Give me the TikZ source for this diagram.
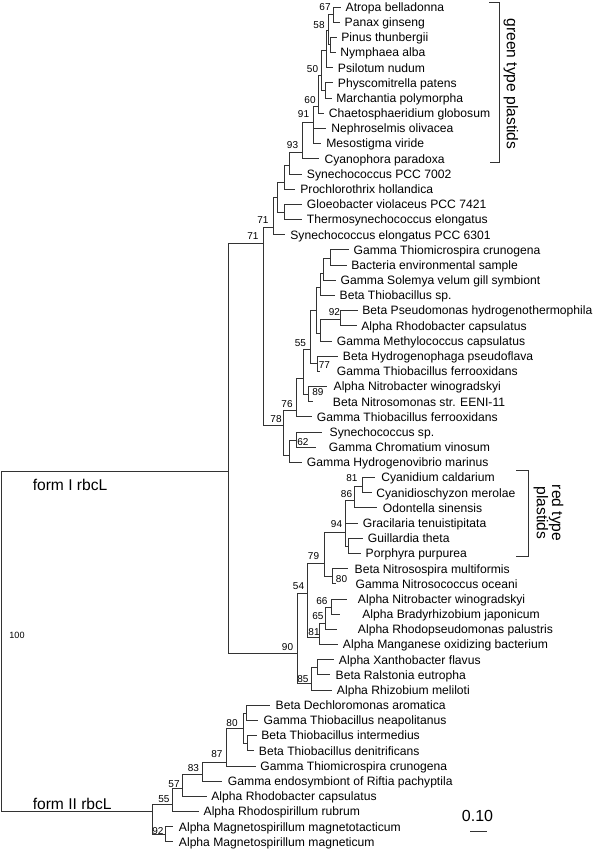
\documentclass[tikz,border=0pt]{standalone}
\usepackage{fontspec}
\setmainfont{Liberation Sans}
\usetikzlibrary{positioning}

\begin{document}
\begin{tikzpicture}[
  x=0.75pt, y=-0.75pt,
  br/.style={draw=black!80, line width=0.7pt},
  leaf/.style={anchor=west, font=\fontsize{9.1}{10}\selectfont, inner ysep=0pt, text height=6.5pt, text depth=0pt},
  boot/.style={font=\fontsize{7.5}{8}\selectfont, inner sep=0pt},
  grp/.style={font=\fontsize{11.7}{11.3}\selectfont, inner sep=0pt, align=center}
]
\useasboundingbox (0,0) rectangle (600,851);

% leaves: number / tip x / label x / name
\foreach \n/\tx/\lx/\t in {
  1/341/346/Atropa belladonna, 2/340/345/Panax ginseng, 3/337/341.7/Pinus thunbergii,
  4/336/340.7/Nymphaea alba, 5/333/338.3/Psilotum nudum, 6/333/338.3/Physcomitrella patens,
  7/332/336.7/Marchantia polymorpha, 8/324/329.3/Chaetosphaeridium globosum,
  9/326/331.7/Nephroselmis olivacea, 10/321/326.7/Mesostigma viride, 11/319/325/Cyanophora paradoxa,
  12/302/307.3/Synechococcus PCC 7002, 13/295/300.7/Prochlorothrix hollandica,
  14/302/307.3/Gloeobacter violaceus PCC 7421, 15/302/307.3/Thermosynechococcus elongatus,
  16/285/290.7/Synechococcus elongatus PCC 6301, 17/349/354/Gamma Thiomicrospira crunogena,
  18/347/351.7/Bacteria environmental sample, 19/336/341/Gamma Solemya velum gill symbiont,
  20/335/340/Beta Thiobacillus sp., 21/357.7/362.7/Beta Pseudomonas hydrogenothermophila,
  22/356.7/361.7/Alpha Rhodobacter capsulatus, 23/332.3/337.3/Gamma Methylococcus capsulatus,
  24/338.3/343.3/Beta Hydrogenophaga pseudoflava, 25/320/337.3/Gamma Thiobacillus ferrooxidans,
  26/327/334/Alpha Nitrobacter winogradskyi, 27/313/333.3/Beta Nitrosomonas str. EENI-11,
  28/312.3/317.3/Gamma Thiobacillus ferrooxidans, 29/322/330/Synechococcus sp.,
  30/316/329.3/Gamma Chromatium vinosum, 31/302.3/307.3/Gamma Hydrogenovibrio marinus,
  32/375/381.7/Cyanidium caldarium, 33/372/376.7/Cyanidioschyzon merolae,
  34/377/383.3/Odontella sinensis, 35/358.3/363.3/Gracilaria tenuistipitata,
  36/363.3/368.3/Guillardia theta, 37/361/366/Porphyra purpurea,
  38/348/355/Beta Nitrosospira multiformis, 39/336/356/Gamma Nitrosococcus oceani,
  40/347/358.3/Alpha Nitrobacter winogradskyi, 41/340/362.7/Alpha Bradyrhizobium japonicum,
  42/337/358.3/Alpha Rhodopseudomonas palustris, 43/338.3/343.3/Alpha Manganese oxidizing bacterium,
  44/334.3/339.3/Alpha Xanthobacter flavus, 45/330/336/Beta Ralstonia eutropha,
  46/332.3/337.3/Alpha Rhizobium meliloti, 47/270/276/Beta Dechloromonas aromatica,
  48/258/264/Gamma Thiobacillus neapolitanus, 49/256.7/261.7/Beta Thiobacillus intermedius,
  50/254.3/259.3/Beta Thiobacillus denitrificans, 51/255.7/260.7/Gamma Thiomicrospira crunogena,
  52/222.3/228.3/Gamma endosymbiont of Riftia pachyptila, 53/206.7/211.7/Alpha Rhodobacter capsulatus,
  54/199/204/Alpha Rhodospirillum rubrum, 55/173/179.3/Alpha Magnetospirillum magnetotacticum,
  56/173/179.3/Alpha Magnetospirillum magneticum}
  \node[leaf, inner xsep={(\lx-\tx-0.6)*0.75pt}] (l\n) at (\tx,{7+(\n-1)*15.18}) {\t};

% internal nodes
\foreach \n/\x/\y in {
  n67/333/14.6, nPN/330/44.9, n58/328/30, nPs/326/50, nPM/325/90.5, n50/321/75,
  n60/318/106, n91/313/122, n93/302/152, nS7/289/165, nPr/284/182, nGT/284/212,
  nCy/277/197, n71a/273/227, n71b/263/243,
  nT1/330/258, nT2/323/273, nT3/320/287, n92/340/319, nT4/320/333, nT5/316/310,
  n77/317/363.7, n55/310/349, n89/308/394, nB/303/378, n76/296/410, n62/296/440,
  nH/289/455, n78/283/425,
  n81/362/486, n86/354/500, nGP/348/546, n94/345/532, n80/332/576, n79/324/563,
  n66/331/607, n65/325/623, n81b/319/637, n54/307/593, nXR/317/667, n85/311/683,
  n90/297/653, f1/228/471,
  nDN/246/713, nID/247/743, n80b/243/728, n87/226/762, n83/202/774, n57/182/788,
  n55b/172/804, n92b/165/834, f2/152/811, root/1.5/640}
  \coordinate (\n) at (\x,\y);

% branches
\foreach \p/\c in {
  n67/l1, n67/l2, nPN/l3, nPN/l4, n58/n67, n58/nPN, nPs/n58, nPs/l5, nPM/l6, nPM/l7,
  n50/nPs, n50/nPM, n60/n50, n60/l8, n91/n60, n91/l9, n91/l10, n93/n91, n93/l11,
  nS7/n93, nS7/l12, nPr/nS7, nPr/l13, nGT/l14, nGT/l15, nCy/nPr, nCy/nGT,
  n71a/nCy, n71a/l16, n71b/n71a, n71b/n78,
  nT1/l17, nT1/l18, nT2/nT1, nT2/l19, nT3/nT2, nT3/l20, n92/l21, n92/l22, nT4/n92, nT4/l23,
  nT5/nT3, nT5/nT4, n77/l24, n77/l25, n55/nT5, n55/n77, n89/l26, n89/l27, nB/n55, nB/n89,
  n76/nB, n76/l28, n62/l29, n62/l30, nH/n62, nH/l31, n78/n76, n78/nH,
  n81/l32, n81/l33, n86/n81, n86/l34, nGP/l36, nGP/l37, n94/n86, n94/l35, n94/nGP,
  n80/l38, n80/l39, n79/n94, n79/n80, n66/l40, n66/l41, n65/n66, n65/l42,
  n81b/n65, n81b/l43, n54/n79, n54/n81b, nXR/l44, nXR/l45, n85/nXR, n85/l46,
  n90/n54, n90/n85, f1/n71b, f1/n90,
  nDN/l47, nDN/l48, nID/l49, nID/l50, n80b/nDN, n80b/nID, n87/n80b, n87/l51,
  n83/n87, n83/l52, n57/n83, n57/l53, n55b/n57, n55b/l54, n92b/l55, n92b/l56,
  f2/n55b, f2/n92b, root/f1, root/f2}
  \draw[br] (\p) |- (\c);

% bootstrap values
\foreach \x/\y/\v [count=\i] in {
  325/7.5/67, 319/25/58, 312.5/69/50, 310/100/60, 303.5/114/91, 292.5/145/93,
  263/220/71, 253/236/71, 334.5/312/92, 300.5/343/55, 324.5/365/77, 318/392/89,
  287/404/76, 276/419/78, 303/442/62, 352/478/81, 346.5/494/86, 336.5/524/94,
  313.5/556/79, 341.5/579/80, 298.5/586/54, 322/601/66, 318/616/65, 314/632/81,
  287.5/647/90, 303/679/85, 232/723/80, 217/754/87, 193.5/768/83, 174/784/57,
  164/799/55, 158/831/92}
  \node[boot] (bs\i) at (\x,\y) {\v};
\node[boot, font=\fontsize{6.8}{7}\selectfont] (bsroot) at (17,635) {100};

% form labels
\node[grp, anchor=base west] (formI) at (32.5,490) {form I rbcL};
\node[grp, anchor=base west] (formII) at (32.5,809.5) {form II rbcL};

% plastid brackets
\coordinate (g1) at (489,2); \coordinate (g2) at (499,2);
\coordinate (g3) at (499,162); \coordinate (g4) at (490,162);
\draw[br] (g1) -- (g2) -- (g3) -- (g4);
\node[grp, rotate=-90] (green) at (511,84) {green type plastids};
\coordinate (r1) at (516,470); \coordinate (r2) at (528,470);
\coordinate (r3) at (528,556); \coordinate (r4) at (516,556);
\draw[br] (r1) -- (r2) -- (r3) -- (r4);
\node[grp, rotate=-90] (red) at (548.5,513) {red type\\plastids};

% scale bar
\coordinate (sb1) at (470,831); \coordinate (sb2) at (487,831);
\draw[br] (sb1) -- (sb2);
\node[grp, font=\fontsize{12}{12}\selectfont] (sbl) at (477.5,816) {0.10};
\end{tikzpicture}
\end{document}
